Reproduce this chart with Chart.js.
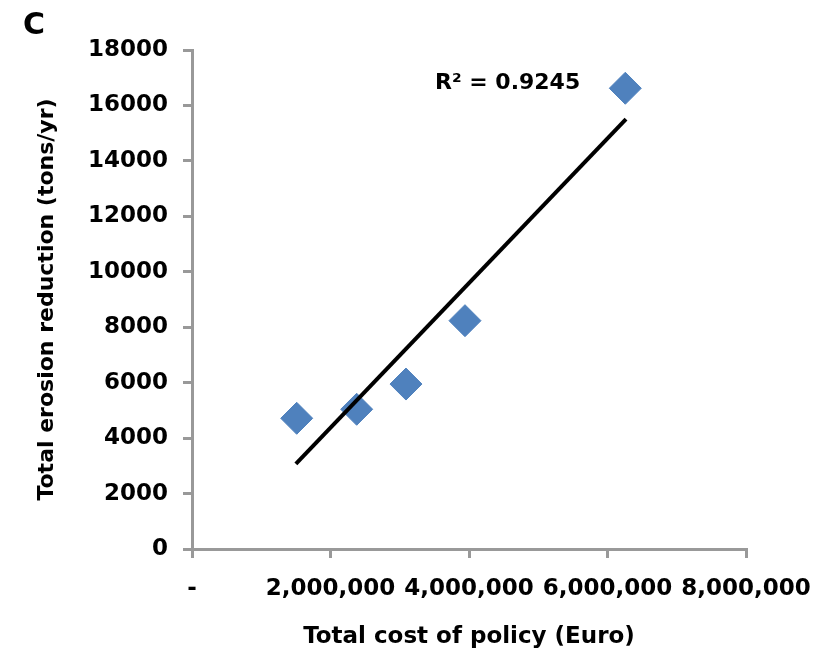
<!DOCTYPE html>
<html>
<head>
<meta charset="utf-8">
<script src="https://cdn.jsdelivr.net/npm/chart.js@4"></script>
<style>
    body { margin: 0; background: #fff; }
    #chart { display: block; }
</style>
</head>
<body>
<canvas id="chart" width="825" height="662"></canvas>
<script>
// Data
const costEuro = [1512000, 2378000, 3090000, 3942000, 6257000];
const erosionReduction = [4715, 5040, 5950, 8236, 16620];

// Trendline ends (as drawn in the reference)
const trendX = [1500000, 6267000];
const trendY = [3070, 15510];

const yTicks = [0, 2000, 4000, 6000, 8000, 10000, 12000, 14000, 16000, 18000];
const xTicks = [0, 2000000, 4000000, 6000000, 8000000];

const rSquaredLabel = 'R\u00B2 = 0.9245';
const panelLabel = 'C';

const FONT = 'DejaVu Sans';
const AXIS_GREY = '#999999';

// Extra text: panel letter and R² label
const annotations = {
    id: 'annotations',
    afterDraw(chart) {
        const ctx = chart.ctx;
        ctx.save();
        ctx.fillStyle = '#000';
        ctx.textBaseline = 'middle';
        ctx.textAlign = 'left';
        ctx.font = 'bold 30px "' + FONT + '"';
        ctx.fillText(panelLabel, 23, 26);
        ctx.font = 'bold 22px "' + FONT + '"';
        ctx.fillText(rSquaredLabel, 435, 83);
        ctx.restore();
    }
};

const ctx = document.getElementById('chart').getContext('2d');
new Chart(ctx, {
    type: 'scatter',
    data: {
        datasets: [
            {
                label: 'Points',
                data: costEuro.map((x, i) => ({ x: x, y: erosionReduction[i] })),
                pointStyle: 'rectRot',
                pointRadius: 16,
                backgroundColor: '#4F81BD',
                borderColor: '#4F81BD',
                borderWidth: 1,
                order: 1
            },
            {
                label: 'Trend',
                type: 'line',
                data: trendX.map((x, i) => ({ x: x, y: trendY[i] })),
                borderColor: '#000',
                borderWidth: 4,
                pointRadius: 0,
                fill: false,
                order: 0
            }
        ]
    },
    options: {
        responsive: false,
        animation: false,
        layout: {
            padding: { top: 50, right: 79, bottom: 0, left: 0 }
        },
        plugins: {
            legend: { display: false },
            tooltip: { enabled: false }
        },
        scales: {
            x: {
                type: 'linear',
                min: xTicks[0],
                max: xTicks[xTicks.length - 1],
                afterBuildTicks: scale => {
                    scale.ticks = xTicks.map(v => ({ value: v }));
                },
                afterFit: scale => {
                    scale.height = 113;
                    scale.paddingLeft = 0;
                    scale.paddingRight = 0;
                },
                border: { color: AXIS_GREY, width: 3 },
                grid: {
                    drawOnChartArea: false,
                    color: AXIS_GREY,
                    lineWidth: 3,
                    tickLength: 9
                },
                ticks: {
                    autoSkip: false,
                    maxRotation: 0,
                    padding: 17,
                    color: '#000',
                    font: { family: FONT, size: 23, weight: 'bold' },
                    callback: v => v === 0 ? '-' : v.toLocaleString('en-US')
                },
                title: {
                    display: true,
                    text: 'Total cost of policy (Euro)',
                    color: '#000',
                    font: { family: FONT, size: 23, weight: 'bold' },
                    padding: { top: 0, bottom: 11 }
                }
            },
            y: {
                min: yTicks[0],
                max: yTicks[yTicks.length - 1],
                afterBuildTicks: scale => {
                    scale.ticks = yTicks.map(v => ({ value: v }));
                },
                afterFit: scale => { scale.width = 192; },
                border: { color: AXIS_GREY, width: 3 },
                grid: {
                    drawOnChartArea: false,
                    color: AXIS_GREY,
                    lineWidth: 3,
                    tickLength: 9
                },
                ticks: {
                    padding: 15,
                    color: '#000',
                    font: { family: FONT, size: 23, weight: 'bold' },
                    callback: v => String(v)
                },
                title: {
                    display: true,
                    text: 'Total erosion reduction (tons/yr)',
                    color: '#000',
                    font: { family: FONT, size: 22, weight: 'bold' },
                    padding: { top: 34, bottom: 0 }
                }
            }
        }
    },
    plugins: [annotations]
});
</script>
</body>
</html>
